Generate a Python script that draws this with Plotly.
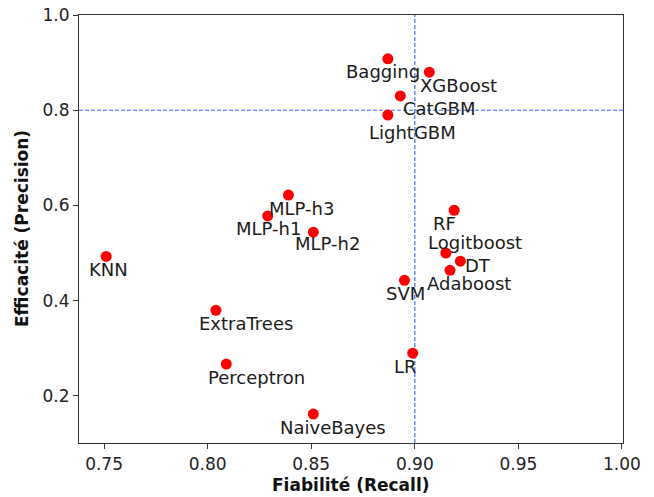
import plotly.graph_objects as go

models = ["Bagging", "XGBoost", "CatGBM", "LightGBM", "MLP-h3", "MLP-h1", "MLP-h2",
          "KNN", "RF", "Logitboost", "DT", "Adaboost", "SVM", "ExtraTrees", "LR",
          "Perceptron", "NaiveBayes"]
recall = [0.887, 0.907, 0.893, 0.887, 0.839, 0.829, 0.851,
          0.751, 0.919, 0.915, 0.922, 0.917, 0.895, 0.804, 0.899,
          0.809, 0.851]
precision = [0.908, 0.880, 0.830, 0.790, 0.622, 0.578, 0.544,
             0.493, 0.590, 0.500, 0.483, 0.464, 0.443, 0.380, 0.290,
             0.267, 0.162]
x_ticks = [0.75, 0.80, 0.85, 0.90, 0.95, 1.00]
x_ticklabels = ["0.75", "0.80", "0.85", "0.90", "0.95", "1.00"]
y_ticks = [0.2, 0.4, 0.6, 0.8, 1.0]
y_ticklabels = ["0.2", "0.4", "0.6", "0.8", "1.0"]
x_title = "<b>Fiabilité (Recall)</b>"
y_title = "<b>Efficacité (Precision)</b>"

# label pixel offsets (dx right, dy down)
offsets = {
    "Bagging": (-5, 13), "XGBoost": (29, 13), "CatGBM": (39, 13), "LightGBM": (25, 17),
    "MLP-h3": (13, 13), "MLP-h1": (1, 13), "MLP-h2": (14, 11), "KNN": (2, 13),
    "RF": (-10, 13), "Logitboost": (29, -11), "DT": (18, 4), "Adaboost": (19, 13),
    "SVM": (1, 13), "ExtraTrees": (30, 13), "LR": (-7, 13), "Perceptron": (30, 13),
    "NaiveBayes": (20, 13),
}

FONT = "DejaVu Sans"
REF_COLOR = "#3a6ef2"
fig = go.Figure()
fig.add_trace(go.Scatter(x=recall, y=precision, mode="markers",
                         marker=dict(color="red", size=11), showlegend=False,
                         hoverinfo="skip"))

for m, x, y in zip(models, recall, precision):
    dx, dy = offsets[m]
    fig.add_annotation(x=x, y=y, text=m, showarrow=False, xshift=dx, yshift=-dy,
                       font=dict(family=FONT, size=18, color="#1a1a1a"))

fig.add_annotation(xref="paper", yref="paper", x=0.5, y=0, yanchor="middle",
                   yshift=-42, text=x_title, showarrow=False,
                   font=dict(family=FONT, size=17, color="#111"))
fig.add_annotation(xref="paper", yref="paper", x=0, y=0.5, xanchor="center",
                   xshift=-57, textangle=-90, text=y_title, showarrow=False,
                   font=dict(family=FONT, size=17, color="#111"))

fig.add_shape(type="line", xref="x", yref="paper", x0=0.9, x1=0.9, y0=0, y1=1,
              line=dict(color=REF_COLOR, width=1.2, dash="4px,2px"), layer="below")
fig.add_shape(type="line", xref="paper", yref="y", x0=0, x1=1, y0=0.8, y1=0.8,
              line=dict(color=REF_COLOR, width=1.2, dash="4px,2px"), layer="below")

axis_common = dict(showgrid=False, zeroline=False, showline=True, linecolor="#333",
                   linewidth=1.2, mirror=True, ticks="outside", ticklen=5,
                   tickcolor="#333", automargin=False, ticklabeloverflow="allow",
                   tickfont=dict(family=FONT, size=17, color="#222"))
fig.update_xaxes(range=[0.7379, 1.0005], tickvals=x_ticks, ticktext=x_ticklabels,
                 **axis_common)
fig.update_yaxes(range=[0.1013, 1.0], tickvals=y_ticks, ticktext=y_ticklabels,
                 **axis_common)
fig.update_layout(width=654, height=497, autosize=False,
                  margin=dict(l=79, r=31, t=15, b=54),
                  plot_bgcolor="white", paper_bgcolor="white")
fig.write_html("out.html", config={"displayModeBar": False},
               post_script="document.body.style.margin='0';document.body.style.overflow='hidden';")
